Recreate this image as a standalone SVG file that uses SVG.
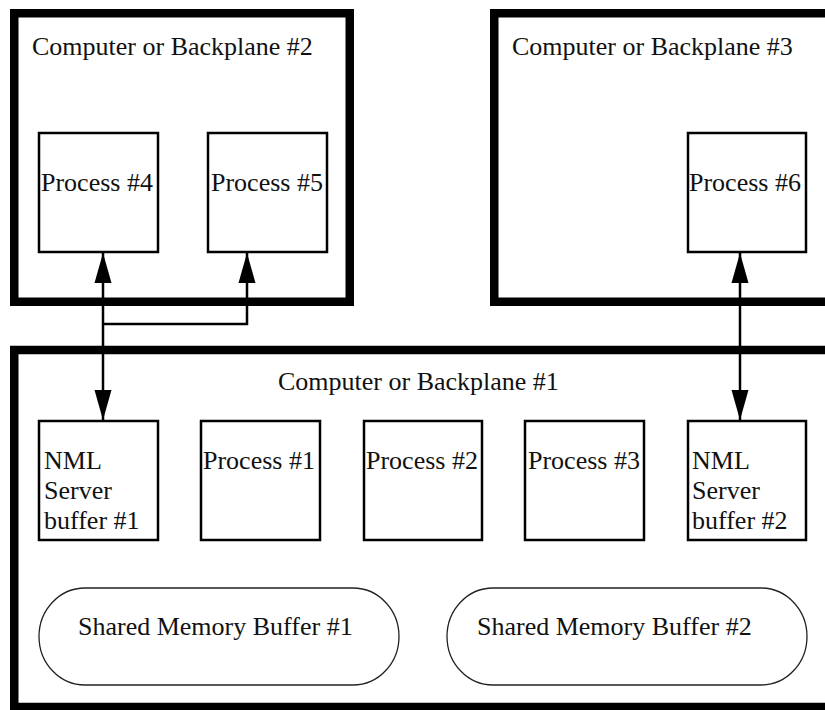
<svg xmlns="http://www.w3.org/2000/svg" width="825" height="710" viewBox="0 0 825 710">
  <style>
    .frame { fill: none; stroke: #000; stroke-width: 8.5; }
    .box { fill: #fff; stroke: #000; stroke-width: 2.5; }
    .pill { fill: #fff; stroke: #222; stroke-width: 1.3; }
    .lbl { font-family: "Liberation Serif", "Times New Roman", serif; font-size: 26px; fill: #111; }
    .conn { fill: none; stroke: #000; stroke-width: 2.5; }
  </style>
  <defs>
    <marker id="ah" markerUnits="userSpaceOnUse" markerWidth="31" markerHeight="18" viewBox="0 0 31 18" refX="30" refY="9" orient="auto-start-reverse">
      <path d="M0,0.5 L30,9 L0,17.5 Z" fill="#000"/>
    </marker>
  </defs>
  <rect width="825" height="710" fill="#fff"/>

  <g id="backplane2">
    <rect class="frame" x="14.25" y="13.25" width="335.5" height="288.5"/>
    <text class="lbl" x="32" y="55">Computer or Backplane #2</text>
  </g>
  <g id="backplane3">
    <rect class="frame" x="494.25" y="13.25" width="400" height="288.5"/>
    <text class="lbl" x="512" y="55">Computer or Backplane #3</text>
  </g>
  <g id="backplane1">
    <rect class="frame" x="14.25" y="350" width="900" height="357"/>
    <text class="lbl" x="278" y="390">Computer or Backplane #1</text>
  </g>

  <g id="process4">
    <rect class="box" x="39" y="133" width="119" height="119"/>
    <text class="lbl" x="41" y="191">Process #4</text>
  </g>
  <g id="process5">
    <rect class="box" x="208" y="133" width="119" height="119"/>
    <text class="lbl" x="211" y="191">Process #5</text>
  </g>
  <g id="process6">
    <rect class="box" x="688" y="133" width="118" height="119"/>
    <text class="lbl" x="689" y="191">Process #6</text>
  </g>

  <g id="nml1">
    <rect class="box" x="39" y="421" width="119" height="119"/>
    <text class="lbl" x="44" y="469">NML</text>
    <text class="lbl" x="44" y="499">Server</text>
    <text class="lbl" x="44" y="529">buffer #1</text>
  </g>
  <g id="process1">
    <rect class="box" x="201" y="421" width="119" height="119"/>
    <text class="lbl" x="203" y="469">Process #1</text>
  </g>
  <g id="process2">
    <rect class="box" x="364" y="421" width="118" height="119"/>
    <text class="lbl" x="366" y="469">Process #2</text>
  </g>
  <g id="process3">
    <rect class="box" x="525" y="421" width="119" height="119"/>
    <text class="lbl" x="528" y="469">Process #3</text>
  </g>
  <g id="nml2">
    <rect class="box" x="688" y="421" width="118" height="119"/>
    <text class="lbl" x="692" y="469">NML</text>
    <text class="lbl" x="692" y="499">Server</text>
    <text class="lbl" x="692" y="529">buffer #2</text>
  </g>

  <g id="shm1">
    <path class="pill" d="M85,588 H353 A46,48.5 0 0 1 353,685 H85 A46,48.5 0 0 1 85,588 Z"/>
    <text class="lbl" x="78" y="635">Shared Memory Buffer #1</text>
  </g>
  <g id="shm2">
    <path class="pill" d="M493,588 H761 A46,48.5 0 0 1 761,685 H493 A46,48.5 0 0 1 493,588 Z"/>
    <text class="lbl" x="477" y="635">Shared Memory Buffer #2</text>
  </g>

  <g id="connectors">
    <path class="conn" d="M103,253 V420" marker-start="url(#ah)" marker-end="url(#ah)"/>
    <path class="conn" d="M247,253 V324 H103" marker-start="url(#ah)"/>
    <path class="conn" d="M740,253 V420" marker-start="url(#ah)" marker-end="url(#ah)"/>
  </g>
</svg>
